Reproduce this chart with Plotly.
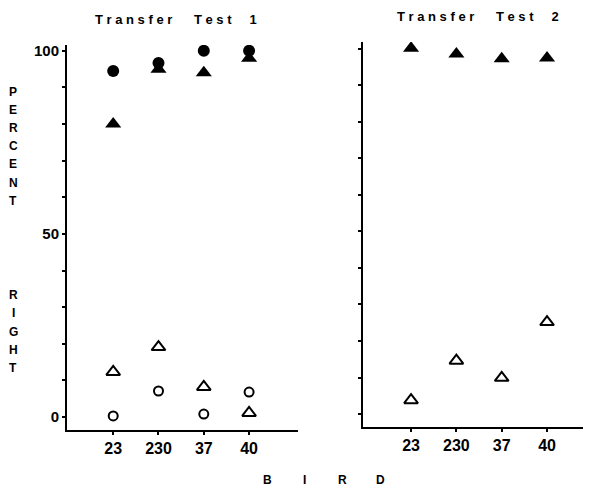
import plotly.graph_objects as go

birds = ["23", "230", "37", "40"]

# Transfer Test 1
t1_filled_circle = [94.5, 96.7, 100, 100]
t1_filled_triangle = [80, 95, 94, 98]
t1_open_triangle = [12.3, 19.1, 8.2, 1.1]
t1_open_circle = [0.3, 7.1, 0.8, 6.8]

# Transfer Test 2
t2_filled_triangle = [100.2, 98.6, 97.3, 97.5]
t2_open_triangle = [3.8, 14.6, 9.9, 25.2]

y_tickvals = [0, 10, 20, 30, 40, 50, 60, 70, 80, 90, 100]
y_ticktext = ["<b>0</b>", "", "", "", "", "<b>50</b>", "", "", "", "", "<b>100</b>"]
x_ticktext = [f"<b>{b}</b>" for b in birds]

FONT = "Liberation Sans"
BLACK = "black"

# page body has an 8px margin; figure is sized / positioned to compensate
OFF = 8
W, H = 591 - OFF, 488 - OFF

def px_x(x):
    return (x - OFF) / W

fig = go.Figure()

def add(x, y, symbol, size, xa, ya, open_=False):
    fig.add_trace(go.Scatter(
        x=x, y=y, mode="markers", xaxis=xa, yaxis=ya, showlegend=False,
        marker=dict(symbol=symbol, size=size,
                    color="white" if open_ else BLACK,
                    line=dict(color=BLACK, width=2 if open_ else 0)),
    ))

add(birds, t1_filled_triangle, "triangle-up", 14, "x", "y")
add(birds, t1_filled_circle, "circle", 12, "x", "y")
add(birds, t1_open_triangle, "triangle-up", 12, "x", "y", True)
add(birds, t1_open_circle, "circle", 9, "x", "y", True)
add(birds, t2_filled_triangle, "triangle-up", 14, "x2", "y2")
add(birds, t2_open_triangle, "triangle-up", 12, "x2", "y2", True)

axis_common = dict(showline=True, linecolor=BLACK, linewidth=2, showgrid=False,
                   zeroline=False, ticks="outside", tickcolor=BLACK, tickwidth=2,
                   fixedrange=True)

fig.update_layout(
    width=W, height=H,
    margin=dict(l=0, r=0, t=42 - OFF, b=58, autoexpand=False),
    paper_bgcolor="white", plot_bgcolor="white",
    font=dict(family=FONT, color=BLACK),
    xaxis=dict(domain=[px_x(67), px_x(298)], type="category", range=[-1.02, 4.08],
               tickvals=birds, ticktext=x_ticktext,
               ticklen=3, tickfont=dict(size=16), anchor="y", **axis_common),
    yaxis=dict(domain=[0, 0.9923], range=[-3.55, 101.6], tickvals=y_tickvals,
               ticktext=y_ticktext, ticklen=3, tickfont=dict(size=15),
               anchor="x", **axis_common),
    xaxis2=dict(domain=[px_x(363), 1.0], type="category", range=[-1.06, 3.97],
                tickvals=birds, ticktext=x_ticktext,
                ticklen=3, tickfont=dict(size=16), anchor="y2", **axis_common),
    yaxis2=dict(domain=[0.0077, 1.0], range=[-3.56, 101.9], tickvals=y_tickvals,
                showticklabels=False, ticklen=3, anchor="x2", **axis_common),
)

NB = "\u00a0"
def spaced_title(n):
    return ("<b>" + " ".join("Transfer") + NB * 6 + " ".join("Test")
            + NB * 5 + n + "</b>")

annotations = [
    dict(text=spaced_title("1"), x=176, y=20, size=13),
    dict(text=spaced_title("2"), x=478, y=16, size=13),
]
for i, ch in enumerate("PERCENT"):
    annotations.append(dict(text=f"<b>{ch}</b>", x=13, y=92 + i * 18.1, size=12))
for i, ch in enumerate("RIGHT"):
    annotations.append(dict(text=f"<b>{ch}</b>", x=13, y=295 + i * 18.3, size=12))
for i, ch in enumerate("BIRD"):
    annotations.append(dict(text=f"<b>{ch}</b>", x=267 + i * 37.7, y=480, size=12))

ann_objs = []
for a in annotations:
    ann_objs.append(dict(text=a["text"], x=px_x(a["x"]), y=(430 - a["y"]) / 388,
                         xref="paper", yref="paper", yanchor="middle", xanchor="center",
                         showarrow=False,
                         font=dict(family=FONT, color=BLACK, size=a["size"])))
fig.update_layout(annotations=ann_objs)

fig.write_html("out.html")
